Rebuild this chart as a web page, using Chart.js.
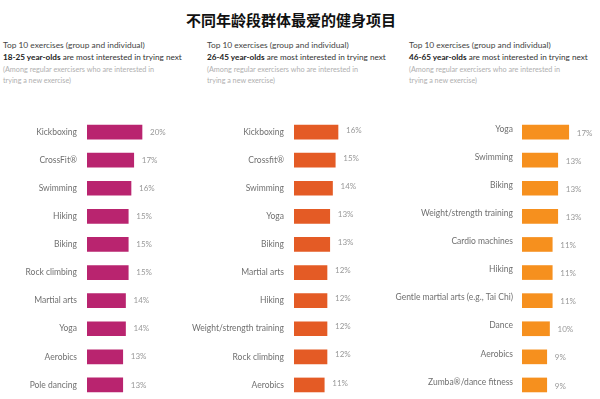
<!DOCTYPE html>
<html>
<head>
<meta charset="utf-8">
<script src="https://cdn.jsdelivr.net/npm/chart.js@4/dist/chart.umd.min.js"></script>
<style>
  html, body { margin: 0; padding: 0; background: #fff; }
  #wrap { position: relative; width: 600px; height: 399px; overflow: hidden; font-family: Lato, "Noto Sans", sans-serif; }
  #title { position: absolute; left: 183px; top: 9px; width: 216px; text-align: center; font-family: "Noto Sans CJK SC", sans-serif; font-weight: bold; font-size: 15px; color: #111; white-space: nowrap; }
  .hdr { position: absolute; top: 39px; white-space: nowrap; }
  .hdr div { display: block; }
  .l1 { font-size: 9px; color: #444; line-height: 12px; height: 12px; }
  .l2 { font-size: 9px; color: #333; line-height: 12px; height: 12px; }
  .l2 b { color: #222; font-weight: bold; }
  .l3 { font-size: 6.8px; color: #b0b0b0; line-height: 10.5px; height: 10.5px; }
  .l3.first { margin-top: 1px; }
  .fit { display: inline-block; }
  canvas { position: absolute; top: 118px; }
</style>
</head>
<body>
<div id="wrap">
  <div id="title">不同年龄段群体最爱的健身项目</div>
  <div class="hdr" style="left:3px">
    <div class="l1"><span class="fit" data-w="142">Top 10 exercises (group and individual)</span></div>
    <div class="l2"><span class="fit" data-w="179"><b>18-25 year-olds</b> are most interested in trying next</span></div>
    <div class="l3 first"><span class="fit" data-w="151">(Among regular exercisers who are interested in</span></div>
    <div class="l3"><span class="fit" data-w="68">trying a new exercise)</span></div>
  </div>
  <div class="hdr" style="left:207px">
    <div class="l1"><span class="fit" data-w="142">Top 10 exercises (group and individual)</span></div>
    <div class="l2"><span class="fit" data-w="179"><b>26-45 year-olds</b> are most interested in trying next</span></div>
    <div class="l3 first"><span class="fit" data-w="151">(Among regular exercisers who are interested in</span></div>
    <div class="l3"><span class="fit" data-w="68">trying a new exercise)</span></div>
  </div>
  <div class="hdr" style="left:409px">
    <div class="l1"><span class="fit" data-w="142">Top 10 exercises (group and individual)</span></div>
    <div class="l2"><span class="fit" data-w="179"><b>46-65 year-olds</b> are most interested in trying next</span></div>
    <div class="l3 first"><span class="fit" data-w="151">(Among regular exercisers who are interested in</span></div>
    <div class="l3"><span class="fit" data-w="68">trying a new exercise)</span></div>
  </div>
  <canvas id="c1" width="200" height="281" style="left:0px"></canvas>
  <canvas id="c2" width="215" height="281" style="left:185px"></canvas>
  <canvas id="c3" width="215" height="281" style="left:385px"></canvas>
</div>
<script>
const cats1825 = ["Kickboxing", "CrossFit®", "Swimming", "Hiking", "Biking", "Rock climbing", "Martial arts", "Yoga", "Aerobics", "Pole dancing"];
const vals1825 = [20, 17, 16, 15, 15, 15, 14, 14, 13, 13];

const cats2645 = ["Kickboxing", "Crossfit®", "Swimming", "Yoga", "Biking", "Martial arts", "Hiking", "Weight/strength training", "Rock climbing", "Aerobics"];
const vals2645 = [16, 15, 14, 13, 13, 12, 12, 12, 12, 11];

const cats4665 = ["Yoga", "Swimming", "Biking", "Weight/strength training", "Cardio machines", "Hiking", "Gentle martial arts (e.g., Tai Chi)", "Dance", "Aerobics", "Zumba®/dance fitness"];
const vals4665 = [17, 13, 13, 13, 11, 11, 11, 10, 9, 9];

// fit header lines to the widths measured on the reference
document.querySelectorAll('.fit').forEach(el => {
  const target = parseFloat(el.dataset.w);
  const fs = parseFloat(getComputedStyle(el).fontSize);
  const w = el.getBoundingClientRect().width;
  if (w > 0) el.style.fontSize = (fs * target / w).toFixed(2) + 'px';
});

const PX_PER_PCT = 2.75;
const FONT = "Lato, 'Noto Sans', sans-serif";

const valueLabels = {
  id: 'valueLabels',
  afterDatasetsDraw(chart, args, opts) {
    const ctx = chart.ctx;
    const meta = chart.getDatasetMeta(0);
    const data = chart.data.datasets[0].data;
    ctx.save();
    ctx.font = "8px " + FONT;
    ctx.fillStyle = '#999';
    ctx.textAlign = 'left';
    ctx.textBaseline = 'middle';
    meta.data.forEach((bar, i) => {
      ctx.fillText(data[i] + '%', bar.x + 8, bar.y + (opts.dy || 0));
    });
    ctx.restore();
  }
};

function makeChart(id, cats, vals, color, yWidth, canvasW, pad, labelDy, valueDy) {
  const areaW = canvasW - yWidth;
  new Chart(document.getElementById(id), {
    type: 'bar',
    data: {
      labels: cats,
      datasets: [{ data: vals, backgroundColor: color, barThickness: 14 }]
    },
    options: {
      indexAxis: 'y',
      responsive: false,
      maintainAspectRatio: false,
      animation: false,
      layout: { padding: 0 },
      plugins: { legend: { display: false }, tooltip: { enabled: false }, valueLabels: { dy: valueDy } },
      scales: {
        x: { display: false, min: 0, max: areaW / PX_PER_PCT },
        y: {
          grid: { display: false, drawTicks: false },
          border: { display: false },
          ticks: { color: '#707070', font: { family: FONT, size: 8.5 }, padding: pad, labelOffset: labelDy, autoSkip: false },
          afterFit(scale) { scale.width = yWidth; scale.paddingTop = 0; scale.paddingBottom = 0; }
        }
      }
    },
    plugins: [valueLabels]
  });
}

makeChart('c1', cats1825, vals1825, '#B9246F', 87, 200, 10, 0, 0);
makeChart('c2', cats2645, vals2645, '#E45B25', 109, 215, 10, 0, -2);
makeChart('c3', cats4665, vals4665, '#F6901E', 137, 215, 9, -3, 1);
</script>
</body>
</html>
